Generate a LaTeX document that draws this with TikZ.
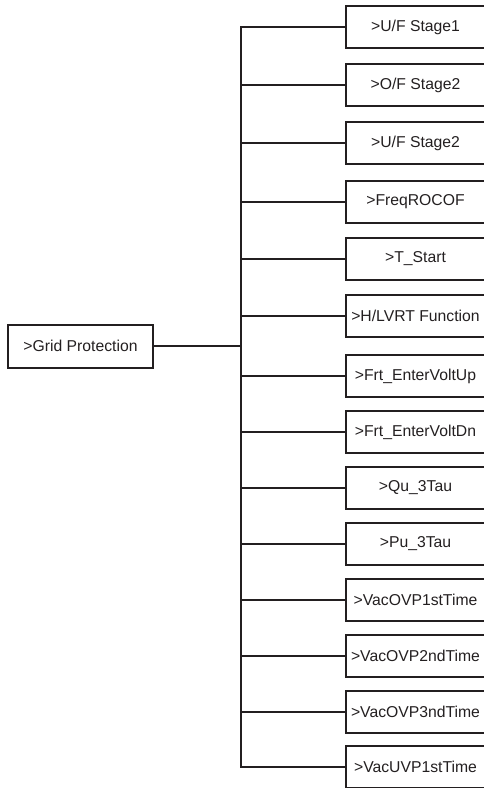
\documentclass[tikz,border=0pt]{standalone}
\usepackage{fontspec}
\setmainfont{Liberation Sans}
\definecolor{ink}{HTML}{231F20}
\begin{document}
\begin{tikzpicture}[x=0.75pt,y=-0.75pt,
  menubox/.style={draw=ink, line width=1.5pt, rectangle, inner sep=0pt,
    text=ink, font=\fontsize{11.8pt}{14pt}\selectfont},
  childbox/.style={menubox, minimum width=113.25pt, minimum height=31.5pt},
  rootbox/.style={menubox, minimum width=108.75pt, minimum height=32.25pt},
  link/.style={draw=ink, line width=1.3pt, line cap=rect}]
\useasboundingbox (0,0) rectangle (484,788);
\node[rootbox] (root) at (80.5,346) {>Grid Protection};
\coordinate (spine) at (241,346);
\foreach \i/\y/\t in {
  0/27/{>U/F Stage1},
  1/85/{>O/F Stage2},
  2/143/{>U/F Stage2},
  3/202/{>FreqROCOF},
  4/259/{>T\_Start},
  5/316/{>H/LVRT Function},
  6/376/{>Frt\_EnterVoltUp},
  7/432/{>Frt\_EnterVoltDn},
  8/488/{>Qu\_3Tau},
  9/544/{>Pu\_3Tau},
  10/600/{>VacOVP1stTime},
  11/656/{>VacOVP2ndTime},
  12/712/{>VacOVP3ndTime},
  13/767/{>VacUVP1stTime}}{
  \node[childbox] (c\i) at (421,\y) {\t\hspace*{8.25pt}};
  \draw[link] (c\i.west) -- (c\i.west -| spine);
}
\draw[link] (root.east) -- (spine);
\draw[link] (c0.west -| spine) -- (c13.west -| spine);
\end{tikzpicture}
\end{document}
